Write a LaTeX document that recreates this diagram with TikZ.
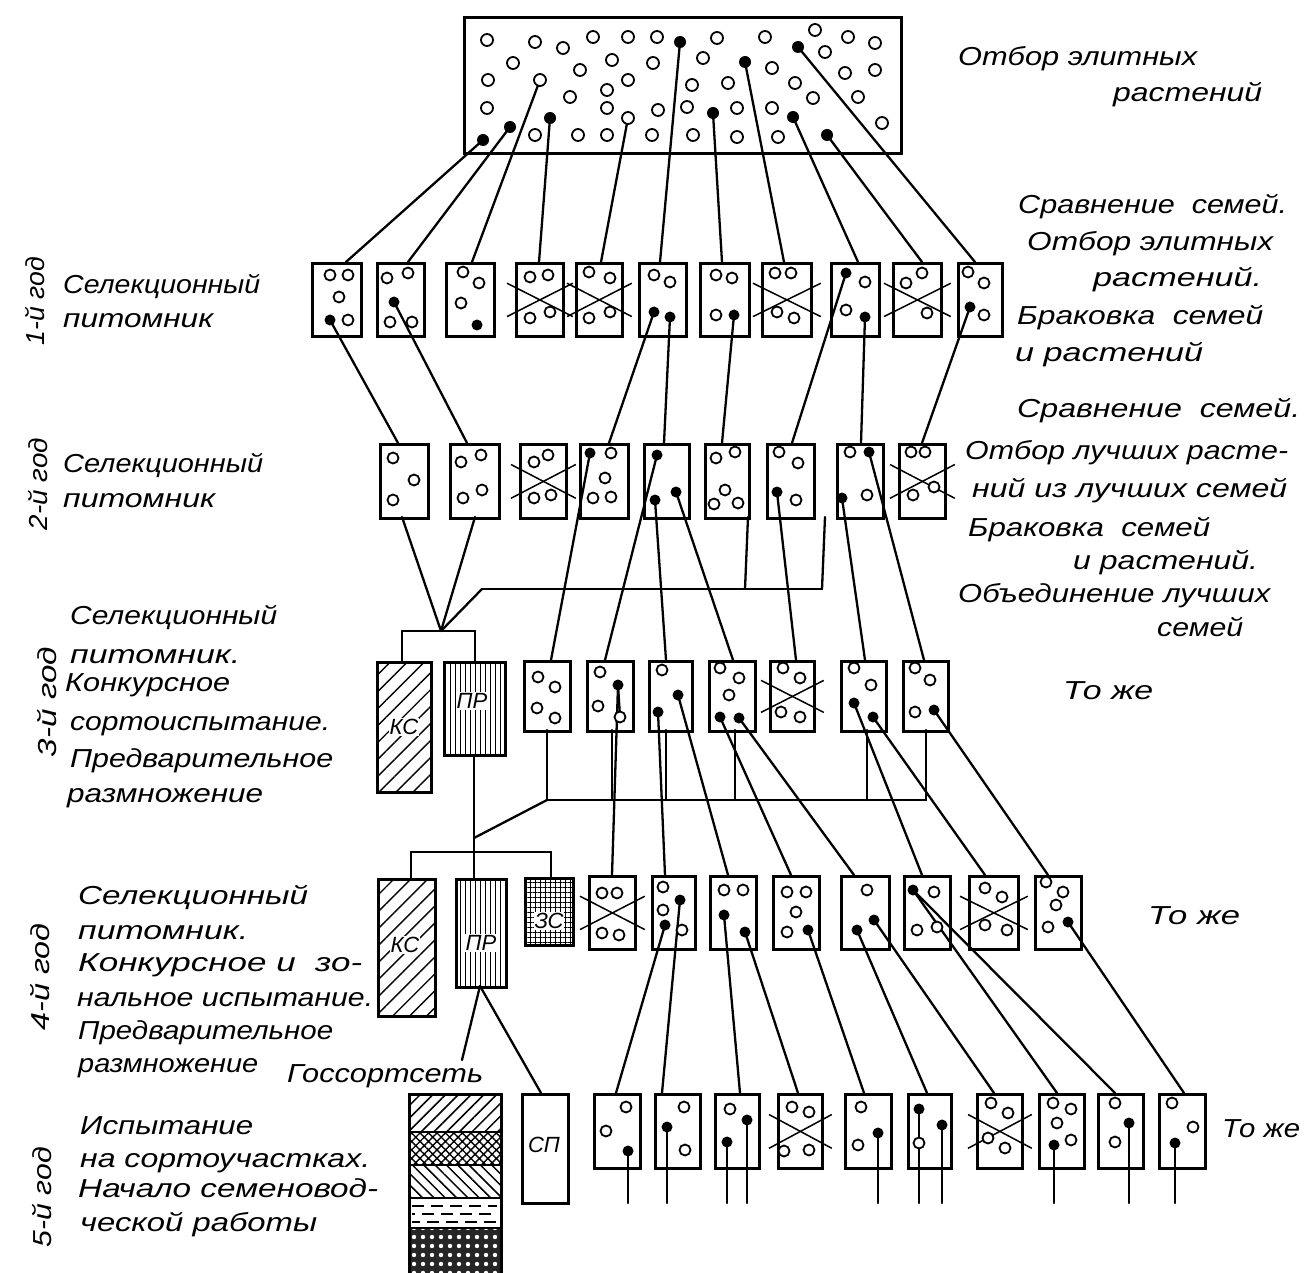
\documentclass[tikz,border=0pt]{standalone}
\usepackage{fontspec}
\setmainfont{Liberation Sans}
\usepackage{graphicx}
\usetikzlibrary{calc,patterns.meta}
\newcommand\lfont{\fontsize{26}{30}\selectfont\itshape}
\tikzset{
 fambox/.style={draw, line width=2.8pt, inner sep=0pt, rectangle},
 conn/.style={line width=2.3pt, line cap=round},
 ocs/.style={draw, line width=1.8pt, fill=white},
 crossl/.style={line width=1.5pt},
 lbl/.style={anchor=base west, inner sep=0pt, font=\lfont},
 boxlbl/.style={font=\fontsize{22}{24}\selectfont\itshape, fill=white, inner sep=1pt},
}
\newcommand\bx[5]{\node[fambox, anchor=north west, minimum width=#4pt, minimum height=#5pt] (#1) at (#2,#3) {};}
\newcommand\xbox[1]{%
 \draw[crossl] ($(#1.north west)!0.28!(#1.south west)+(-8,0)$) -- ($(#1.north east)!0.72!(#1.south east)+(8,0)$);
 \draw[crossl] ($(#1.north west)!0.72!(#1.south west)+(-8,0)$) -- ($(#1.north east)!0.28!(#1.south east)+(8,0)$);}
\newcommand\opens[1]{\foreach \a/\b in {#1} {\draw[ocs] (\a,\b) circle[radius=5.5pt];}}
\newcommand\filled[1]{\foreach \n in {#1} {\fill (\n) circle[radius=5.5pt];}}
\newcommand\cpt[3]{\coordinate (#1) at (#2,#3);}
\newcommand\lab[5]{\node[lbl] (#1) at (#2,#3) {\resizebox{#4pt}{\height}{#5}};}
\newcommand\ylab[5]{\node[lbl, anchor=center, rotate=90] (#1) at (#2,#3) {\resizebox{#4pt}{\height}{#5}};}
\begin{document}
\begin{tikzpicture}[x=1pt,y=-1pt]
\fill[white] (0,0) rectangle (1304,1273);
\useasboundingbox (0,0) rectangle (1304,1273);

% ---------- top field
\node[fambox, anchor=north west, minimum width=437pt, minimum height=136pt] (top) at (463,16) {};
\cpt{t1}{483}{140}\cpt{t2}{510}{127}\cpt{t3}{540}{80}\cpt{t4}{550}{118}\cpt{t5}{628}{118}
\cpt{t6}{680}{42}\cpt{t7}{713}{113}\cpt{t8}{745}{62}\cpt{t9}{793}{117}\cpt{t10}{827}{135}\cpt{t11}{798}{47}

% ---------- row 1
\bx{r1a}{311}{262}{49}{73}\bx{r1b}{376}{262}{47}{73}\bx{r1c}{445}{262}{48}{73}
\bx{r1d}{515}{262}{47}{73}\bx{r1e}{575}{262}{46}{73}\bx{r1f}{638}{262}{47}{73}
\bx{r1g}{699}{262}{49}{73}\bx{r1h}{761}{262}{49}{73}\bx{r1i}{830}{262}{48}{73}
\bx{r1j}{892}{262}{48}{73}\bx{r1k}{957}{262}{44}{73}
\xbox{r1d}\xbox{r1e}\xbox{r1h}\xbox{r1j}
\cpt{e1a}{346}{262}\cpt{e1b}{408}{262}\cpt{e1c}{472}{262}\cpt{e1d}{539}{262}\cpt{e1e}{601}{262}
\cpt{e1f}{660}{262}\cpt{e1g}{722}{262}\cpt{e1h}{784}{262}\cpt{e1i}{858}{262}\cpt{e1j}{922}{262}\cpt{e1k}{975}{262}
\cpt{r1a1}{330}{320}\cpt{r1b1}{394}{302}\cpt{r1c1}{477}{325}\cpt{r1f1}{654}{312}\cpt{r1f2}{670}{317}
\cpt{r1g1}{734}{315}\cpt{r1i1}{846}{273}\cpt{r1i2}{865}{317}\cpt{r1k1}{970}{307}

% ---------- row 2
\bx{r2a}{379}{443}{48}{74}\bx{r2b}{449}{443}{49}{74}\bx{r2c}{519}{443}{46}{74}
\bx{r2d}{579}{443}{48}{74}\bx{r2e}{643}{443}{45}{74}\bx{r2f}{704}{443}{44}{74}
\bx{r2g}{766}{443}{47}{74}\bx{r2h}{836}{443}{46}{74}\bx{r2i}{898}{443}{46}{74}
\xbox{r2c}\xbox{r2i}
\cpt{e2a}{398}{443}\cpt{e2b}{467}{443}\cpt{e2d}{609}{443}\cpt{e2e}{664}{443}\cpt{e2f}{722}{443}
\cpt{e2g}{792}{443}\cpt{e2h}{861}{443}\cpt{e2i}{922}{443}
\cpt{r2d1}{590}{453}\cpt{r2e1}{657}{455}\cpt{r2e2}{655}{500}\cpt{r2e3}{676}{492}
\cpt{r2g1}{777}{492}\cpt{r2h1}{842}{498}\cpt{r2h2}{869}{452}
\cpt{x2a}{402}{517}\cpt{x2b}{475}{517}
\cpt{v3}{441}{631}\cpt{m2l}{482}{589}\cpt{m2c}{745}{589}\cpt{m2r}{822}{589}
\cpt{x2f}{748}{517}\cpt{x2g}{825}{517}

% ---------- row 3
\node[fambox, anchor=north west, minimum width=54pt, minimum height=130pt,
 pattern={Lines[angle=45,distance=12pt,line width=1.4pt]}] (kc3) at (377,662) {};
\node[fambox, anchor=north west, minimum width=61pt, minimum height=93pt,
 pattern={Lines[angle=90,distance=5pt,line width=1pt]}] (pr3) at (444,662) {};
\node[boxlbl] (kc3l) at (404,727) {КС};
\node[boxlbl] (pr3l) at (472,701) {ПР};
\bx{r3a}{523}{660}{46}{70}\bx{r3b}{586}{660}{46}{70}\bx{r3c}{648}{660}{43}{70}
\bx{r3d}{708}{660}{46}{70}\bx{r3e}{769}{660}{44}{70}\bx{r3f}{840}{660}{45}{70}
\bx{r3g}{902}{660}{45}{70}
\xbox{r3e}
\cpt{b3l}{402}{631}\cpt{b3r}{475}{631}\cpt{b3lt}{402}{662}\cpt{b3rt}{475}{662}
\cpt{e3a}{551}{660}\cpt{e3b}{605}{660}\cpt{e3c}{666}{660}\cpt{e3d}{733}{660}\cpt{e3e}{796}{660}
\cpt{e3f}{865}{660}\cpt{e3g}{924}{660}
\cpt{r3b1}{618}{685}\cpt{r3b2}{620}{717}\cpt{r3c1}{678}{695}\cpt{r3c2}{658}{712}
\cpt{r3d1}{720}{717}\cpt{r3d2}{739}{718}\cpt{r3f1}{854}{703}\cpt{r3f2}{873}{717}\cpt{r3g1}{934}{710}
\cpt{x3a}{547}{730}\cpt{x3b}{612}{730}\cpt{x3c}{666}{730}\cpt{x3d}{735}{730}\cpt{x3f}{867}{730}\cpt{x3g}{926}{730}
\cpt{m3a}{547}{800}\cpt{m3b}{612}{800}\cpt{m3c}{666}{800}\cpt{m3d}{735}{800}\cpt{m3f}{867}{800}\cpt{m3g}{926}{800}
\cpt{x3p}{474}{755}\cpt{j4}{474}{838}\cpt{j4b}{474}{852}

% ---------- row 4
\node[fambox, anchor=north west, minimum width=57pt, minimum height=137pt,
 pattern={Lines[angle=45,distance=12pt,line width=1.4pt]}] (kc4) at (377,878) {};
\node[fambox, anchor=north west, minimum width=50pt, minimum height=108pt,
 pattern={Lines[angle=90,distance=5pt,line width=1pt]}] (pr4) at (455,878) {};
\node[fambox, anchor=north west, minimum width=48pt, minimum height=67pt,
 pattern={Hatch[angle=0,distance=5pt,line width=1pt]}] (zs4) at (525,878) {};
\node[boxlbl] (kc4l) at (405,945) {КС};
\node[boxlbl] (pr4l) at (481,943) {ПР};
\node[boxlbl] (zs4l) at (549,921) {ЗС};
\cpt{b4l}{411}{852}\cpt{b4r}{551}{852}\cpt{b4lt}{411}{878}\cpt{b4mt}{474}{878}\cpt{b4rt}{551}{878}
\bx{r4a}{588}{875}{46}{73}\bx{r4b}{651}{875}{43}{73}\bx{r4c}{709}{875}{46}{73}
\bx{r4d}{772}{875}{46}{73}\bx{r4e}{840}{875}{48}{73}\bx{r4f}{903}{875}{46}{73}
\bx{r4g}{968}{875}{49}{73}\bx{r4h}{1034}{875}{46}{73}
\xbox{r4a}\xbox{r4g}
\cpt{e4a}{612}{875}\cpt{e4b}{665}{875}\cpt{e4c}{728}{875}\cpt{e4d}{791}{875}\cpt{e4e}{854}{875}
\cpt{e4f}{922}{875}\cpt{e4g}{985}{875}\cpt{e4h}{1048}{875}
\cpt{r4b1}{680}{900}\cpt{r4b2}{665}{925}\cpt{r4c1}{724}{915}\cpt{r4c2}{745}{932}\cpt{r4d1}{808}{930}
\cpt{r4e1}{874}{920}\cpt{r4e2}{857}{930}\cpt{r4f1}{913}{890}\cpt{r4h1}{1068}{922}
\cpt{x4p}{480}{986}\cpt{g1}{462}{1060}

% ---------- row 5
\node[fambox, anchor=north west, minimum width=46pt, minimum height=109pt] (sp5) at (521,1093) {};
\node[boxlbl] (sp5l) at (544,1145) {СП};
\bx{r5a}{593}{1093}{46}{74}\bx{r5b}{654}{1093}{45}{74}\bx{r5c}{714}{1093}{44}{74}
\bx{r5d}{777}{1093}{44}{74}\bx{r5e}{844}{1093}{46}{74}\bx{r5f}{907}{1093}{43}{74}
\bx{r5g}{976}{1093}{45}{74}\bx{r5h}{1038}{1093}{45}{74}\bx{r5i}{1097}{1093}{45}{74}
\bx{r5j}{1158}{1093}{46}{74}
\xbox{r5d}\xbox{r5g}
\cpt{e5s}{541}{1093}\cpt{e5a}{616}{1093}\cpt{e5b}{662}{1093}\cpt{e5c}{740}{1093}\cpt{e5d}{798}{1093}
\cpt{e5e}{864}{1093}\cpt{e5f}{927}{1093}\cpt{e5g}{994}{1093}\cpt{e5h}{1057}{1093}
\cpt{e5i}{1115}{1093}\cpt{e5j}{1184}{1093}
\cpt{r5a1}{628}{1151}\cpt{r5b1}{667}{1127}\cpt{r5c1}{747}{1120}\cpt{r5c2}{727}{1142}\cpt{r5e1}{878}{1133}
\cpt{r5f1}{919}{1109}\cpt{r5f2}{942}{1125}\cpt{r5h1}{1054}{1145}\cpt{r5i1}{1129}{1123}\cpt{r5j1}{1175}{1143}
\foreach \n/\x in {r5a1/628,r5b1/667,r5c1/747,r5c2/727,r5e1/878,r5f1/919,r5f2/942,r5h1/1054,r5i1/1129,r5j1/1175}
 {\coordinate (\n s) at (\x,1203);}

% Gossortset stack
\fill[pattern={Lines[angle=45,distance=9pt,line width=1.5pt]}] (408,1093) rectangle (500,1132);
\fill[pattern={Hatch[angle=45,distance=6pt,line width=1.4pt]}] (408,1132) rectangle (500,1165);
\fill[pattern={Lines[angle=-45,distance=8pt,line width=1.5pt]}] (408,1165) rectangle (500,1198);
\draw[line width=1.6pt, dash pattern=on 12pt off 7pt] (412,1206) -- (497,1206);
\draw[line width=1.6pt, dash pattern=on 12pt off 7pt, dash phase=9pt] (412,1214) -- (497,1214);
\draw[line width=1.6pt, dash pattern=on 12pt off 7pt, dash phase=4pt] (412,1222) -- (497,1222);
\fill[black!85] (408,1228) rectangle (500,1273);
\fill[pattern={Dots[distance=9pt,radius=2.2pt]}, pattern color=white] (408,1228) rectangle (500,1273);
\node[fambox, anchor=north west, minimum width=92pt, minimum height=185pt] (gs) at (408,1093) {};
\foreach \yy in {1132,1165,1198,1228} {\draw[line width=2.2pt] (408,\yy) -- (500,\yy);}

% ---------- connectors
\foreach \u/\v in {t1/e1a,t2/e1b,t3/e1c,t4/e1d,t5/e1e,t6/e1f,t7/e1g,t8/e1h,t9/e1i,t10/e1j,t11/e1k,
 r1a1/e2a,r1b1/e2b,r1f1/e2d,r1f2/e2e,r1g1/e2f,r1i1/e2g,r1i2/e2h,r1k1/e2i,
 x2a/v3,x2b/v3,m2l/v3,m2l/m2r,m2c/x2f,m2r/x2g,
 r2d1/e3a,r2e1/e3b,r2e2/e3c,r2e3/e3d,r2g1/e3e,r2h1/e3f,r2h2/e3g,
 b3l/b3r,b3l/b3lt,b3r/b3rt,
 r3b1/r3b2,r3b1/e4a,r3c2/e4b,r3c1/e4c,r3d1/e4d,r3d2/e4e,r3f1/e4f,r3f2/e4g,r3g1/e4h,
 x3a/m3a,x3b/m3b,x3c/m3c,x3d/m3d,x3f/m3f,x3g/m3g,m3a/m3g,m3a/j4,x3p/j4,j4/j4b,
 b4l/b4r,b4l/b4lt,j4b/b4mt,b4r/b4rt,
 x4p/g1,x4p/e5s,
 r4b2/e5a,r4b1/e5b,r4c1/e5c,r4c2/e5d,r4d1/e5e,r4e2/e5f,r4e1/e5g,r4f1/e5h,r4f1/e5i,r4h1/e5j,
 r5a1/r5a1s,r5b1/r5b1s,r5c1/r5c1s,r5c2/r5c2s,r5e1/r5e1s,r5f1/r5f1s,r5f2/r5f2s,r5h1/r5h1s,r5i1/r5i1s,r5j1/r5j1s}
 {\draw[conn] (\u) -- (\v);}

% ---------- open circles
\foreach \a/\b in {487/40,535/42,563/48,593/37,628/37,657/37,717/38,765/37,815/30,848/37,875/43,
 513/63,612/60,653/63,703/58,772/68,825/52,845/73,875/70,488/80,580/70,628/80,607/90,692/85,728/83,
 795/83,813/98,858/97,487/108,570/97,607/108,628/118,658/110,687/107,737/108,772/108,882/123,
 535/135,578/135,607/135,652/135,693/135,737/137,778/137,540/80}
 {\draw[ocs] (\a,\b) circle[radius=6pt];}
\opens{330/275,348/275,339/297,348/320,387/278,408/273,390/322,412/322,463/272,479/283,461/303,
 530/277,548/275,530/318,550/312,589/272,610/278,589/318,610/312,654/275,670/282,716/275,732/278,716/315,
 775/273,791/273,777/312,794/318,865/282,846/310,922/273,906/283,927/313,968/272,984/283,984/315}
\opens{393/458,414/480,393/500,461/462,481/455,463/498,482/490,534/462,548/455,534/498,551/495,
 611/453,605/478,593/498,611/497,716/458,735/452,725/490,714/504,738/503,779/452,798/463,796/500,
 850/452,867/495,911/452,925/452,913/495,934/487}
\opens{538/677,555/687,537/708,555/718,600/672,598/706,620/717,662/670,720/668,739/678,729/695,
 783/668,800/678,781/712,800/717,854/668,871/685,915/668,930/680,915/712}
\opens{602/893,617/893,602/933,619/935,663/887,663/910,682/930,724/890,743/890,787/892,806/892,796/912,787/932,
 867/890,934/892,917/930,937/927,985/888,1002/897,985/925,1007/930,1046/882,1063/892,1056/905,1048/927}
\opens{626/1107,606/1131,684/1107,685/1150,730/1109,792/1107,809/1112,784/1151,809/1150,861/1107,858/1145,
 919/1143,991/1103,1008/1113,988/1138,1005/1148,1053/1103,1071/1109,1057/1123,1071/1140,1115/1103,1115/1142,
 1172/1103,1193/1127}

% ---------- filled dots
\foreach \n in {t1,t2,t4,t6,t7,t8,t9,t10,t11} {\fill (\n) circle[radius=6pt];}
\filled{r1a1,r1b1,r1c1,r1f1,r1f2,r1g1,r1i1,r1i2,r1k1,r2d1,r2e1,r2e2,r2e3,r2g1,r2h1,r2h2,
 r3b1,r3c1,r3c2,r3d1,r3d2,r3f1,r3f2,r3g1,r4b1,r4b2,r4c1,r4c2,r4d1,r4e1,r4e2,r4f1,r4h1,
 r5a1,r5b1,r5c1,r5c2,r5e1,r5f1,r5f2,r5h1,r5i1,r5j1}

% ---------- right labels
\lab{ra1}{958}{66}{239}{Отбор элитных}
\lab{ra2}{1113}{102}{149}{растений}
\lab{rb1}{1018}{214}{269}{Сравнение\ \ семей.}
\lab{rb2}{1027}{251}{246}{Отбор элитных}
\lab{rb3}{1093}{287}{169}{растений.}
\lab{rb4}{1017}{324}{246}{Браковка\ \ семей}
\lab{rb5}{1015}{362}{188}{и растений}
\lab{rc1}{1017}{417}{283}{Сравнение\ \ семей.}
\lab{rc2}{965}{459}{323}{Отбор лучших расте-}
\lab{rc3}{972}{497}{315}{ний из лучших семей}
\lab{rc4}{968}{536}{242}{Браковка\ \ семей}
\lab{rc5}{1073}{569}{185}{и растений.}
\lab{rc6}{958}{602}{312}{Объединение лучших}
\lab{rc7}{1157}{636}{86}{семей}
\lab{rd1}{1063}{699}{90}{То же}
\lab{re1}{1148}{924}{92}{То же}
\lab{rf1}{1222}{1137}{78}{То же}

% ---------- left labels
\ylab{y1}{35}{301}{88}{1-й год}
\lab{la1}{63}{294}{197}{Селекционный}
\lab{la2}{63}{327}{150}{питомник}
\ylab{y2}{38}{484}{92}{2-й год}
\lab{lb1}{63}{472}{200}{Селекционный}
\lab{lb2}{63}{507}{152}{питомник}
\ylab{y3}{47}{702}{110}{3-й год}
\lab{lc1}{70}{624}{207}{Селекционный}
\lab{lc2}{70}{663}{170}{питомник.}
\lab{lc3}{65}{691}{165}{Конкурсное}
\lab{lc4}{70}{730}{260}{сортоиспытание.}
\lab{lc5}{70}{767}{263}{Предварительное}
\lab{lc6}{67}{802}{196}{размножение}
\ylab{y4}{40}{977}{107}{4-й год}
\lab{ld1}{78}{904}{230}{Селекционный}
\lab{ld2}{78}{939}{170}{питомник.}
\lab{ld3}{78}{971}{284}{Конкурсное и\ \ зо-}
\lab{ld4}{77}{1006}{296}{нальное испытание.}
\lab{ld5}{78}{1039}{255}{Предварительное}
\lab{ld6}{78}{1072}{180}{размножение}
\lab{gsl}{287}{1082}{196}{Госсортсеть}
\ylab{y5}{42}{1197}{100}{5-й год}
\lab{le1}{80}{1134}{173}{Испытание}
\lab{le2}{80}{1167}{290}{на сортоучастках.}
\lab{le3}{78}{1197}{300}{Начало семеновод-}
\lab{le4}{80}{1231}{237}{ческой работы}
\end{tikzpicture}
\end{document}
